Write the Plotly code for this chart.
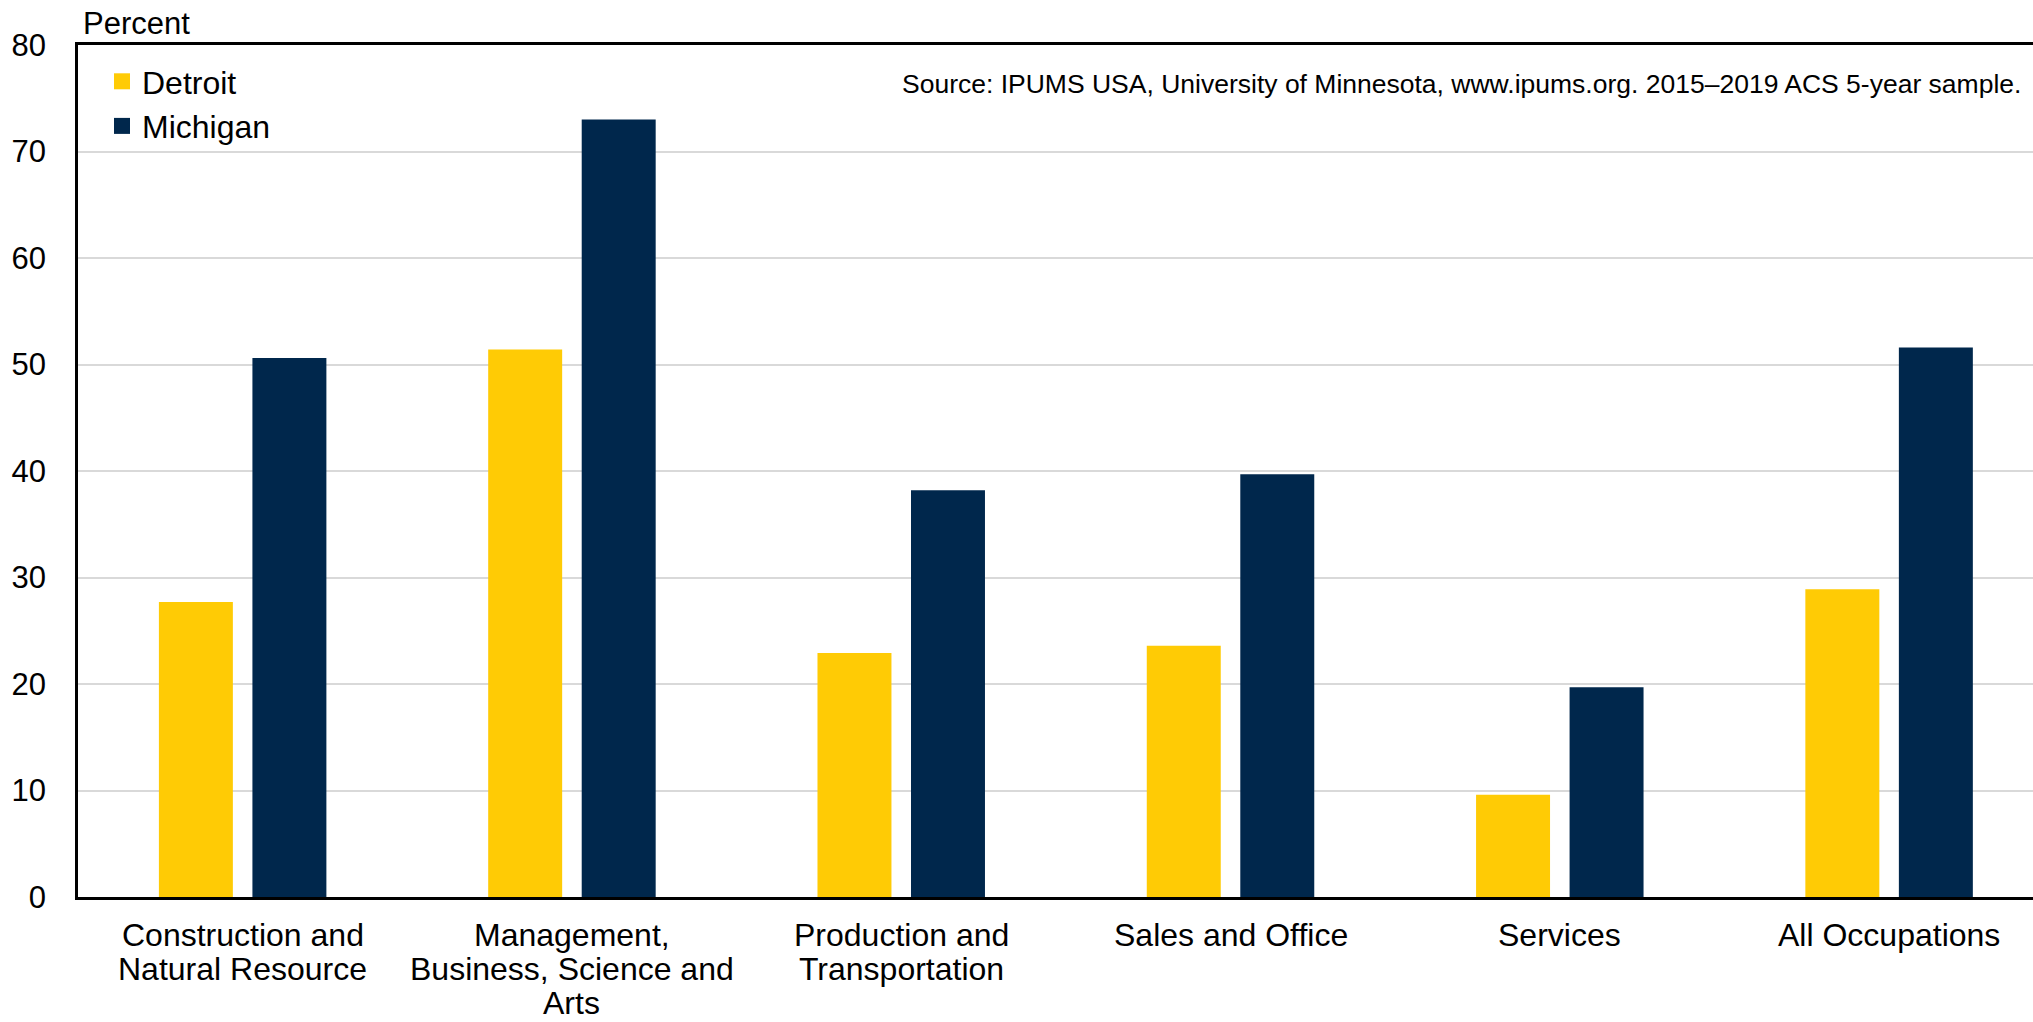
import plotly.graph_objects as go

categories = [
    "Construction and<br>Natural Resource",
    "Management,<br>Business, Science and<br>Arts",
    "Production and<br>Transportation",
    "Sales and Office",
    "Services",
    "All Occupations",
]
detroit = [27.7, 51.4, 22.9, 23.6, 9.6, 28.9]
michigan = [50.6, 73.0, 38.2, 39.7, 19.7, 51.6]
y_ticks = [0, 10, 20, 30, 40, 50, 60, 70, 80]

DET_COLOR = "#FFCB05"
MI_COLOR = "#00274C"
FONT = "Liberation Sans, Arial, sans-serif"

W, H = 2033, 1022
L, R, T, B = 78, 0, 45, 125

fig = go.Figure()
fig.add_trace(go.Bar(x=categories, y=detroit, name="Detroit",
                     marker=dict(color=DET_COLOR, line=dict(width=0)), showlegend=False))
fig.add_trace(go.Bar(x=categories, y=michigan, name="Michigan",
                     marker=dict(color=MI_COLOR, line=dict(width=0)), showlegend=False))
# legend entries
fig.add_trace(go.Scatter(x=[None], y=[None], mode="markers", name="Detroit", legendgroup="a",
                         marker=dict(symbol="square", size=16, color=DET_COLOR)))
fig.add_trace(go.Scatter(x=[None], y=[None], mode="markers", name="Michigan", legendgroup="b",
                         marker=dict(symbol="square", size=16, color=MI_COLOR)))

pw = W - L - R
ph = H - T - B

# category labels, one annotation per line (reference uses tight line spacing)
label_anns = []
for cat in categories:
    for i, line in enumerate(cat.split("<br>")):
        label_anns.append(dict(text=line, xref="x", yref="paper", x=cat, y=0,
                               xanchor="center", yanchor="middle", showarrow=False,
                               yshift=-(38 + 34 * i), font=dict(size=32)))

fig.update_layout(
    width=W, height=H,
    margin=dict(l=L, r=R, t=T, b=B, pad=0),
    paper_bgcolor="white", plot_bgcolor="white",
    font=dict(family=FONT, size=31, color="black"),
    barmode="group", bargap=0.432, bargroupgap=0.209,
    legend=dict(x=(102 - L) / pw, y=1 - (54 - T) / ph, xanchor="left", yanchor="top",
                bgcolor="rgba(0,0,0,0)", font=dict(size=32), tracegroupgap=0,
                itemclick=False),
    xaxis=dict(range=[-0.5, 5.437], showline=True, linecolor="black", linewidth=2.5,
               mirror=True, showgrid=False, ticks="", showticklabels=False,
               fixedrange=True),
    yaxis=dict(range=[0, 80], tickvals=y_ticks, showline=True, linecolor="black", linewidth=2.5,
               showgrid=True, gridcolor="#d9d9d9", gridwidth=2, zeroline=False,
               ticks="", ticklabelstandoff=23, tickfont=dict(size=31), fixedrange=True),
    annotations=[
        dict(text="Percent", xref="paper", yref="paper", x=(81 - L) / pw, y=1 + (T - 24) / ph,
             xanchor="left", yanchor="middle", showarrow=False, font=dict(size=31)),
        dict(text="Source: IPUMS USA, University of Minnesota, www.ipums.org. 2015\u20132019 ACS 5-year sample.",
             xref="paper", yref="paper", x=(2023 - L) / pw, y=1 - (84 - T) / ph,
             xanchor="right", yanchor="middle", showarrow=False, font=dict(size=26.5)),
    ] + label_anns,
)

fig.write_html("out.html", config={"displayModeBar": False},
               post_script="document.body.style.margin='0px';")
